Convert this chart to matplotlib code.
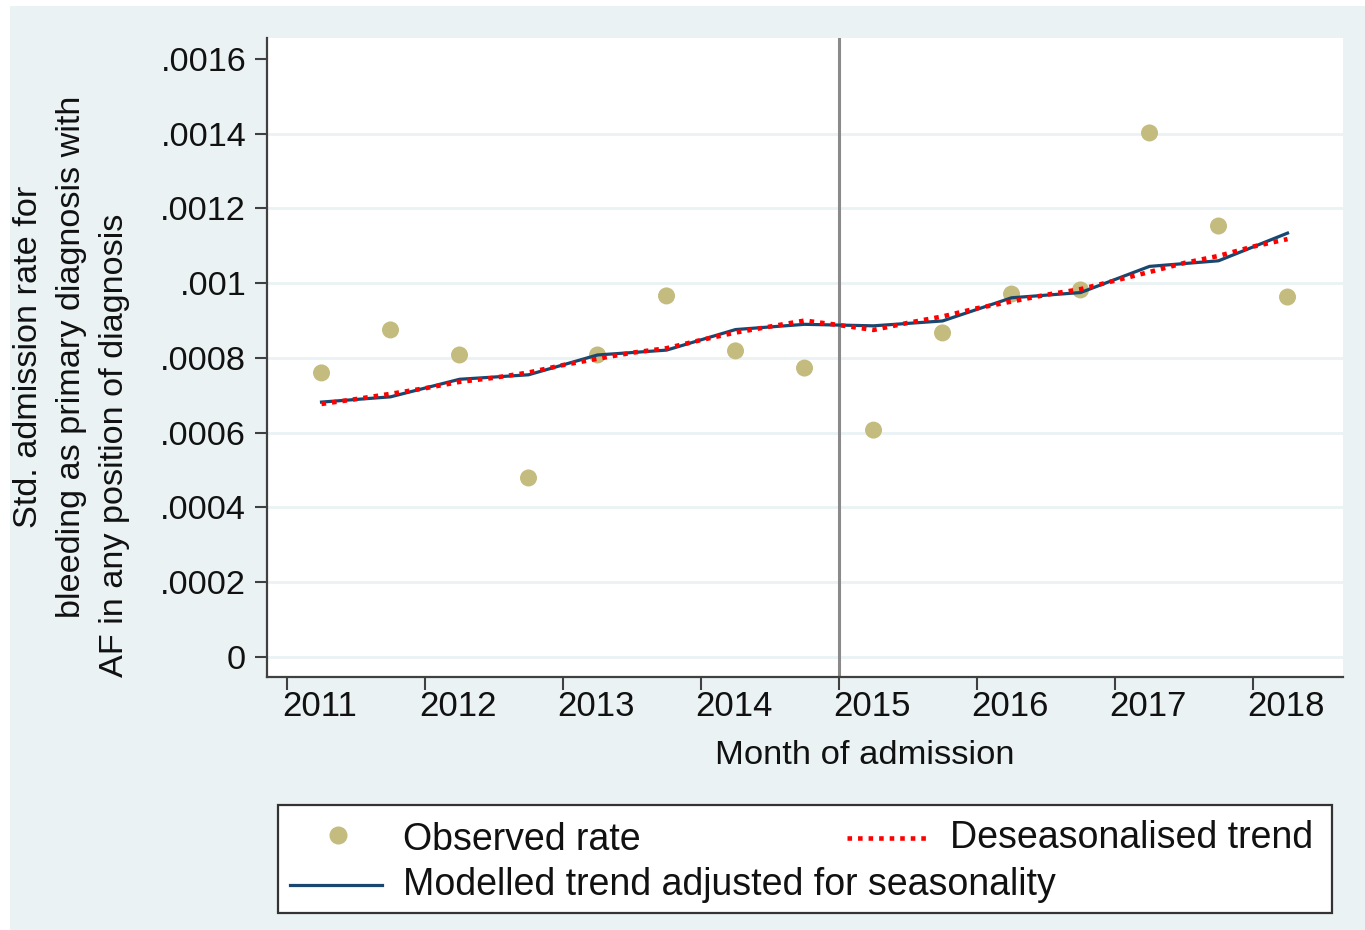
import matplotlib
matplotlib.use('Agg')
import matplotlib.pyplot as plt
from matplotlib.lines import Line2D
from matplotlib.patches import Rectangle
import matplotlib.transforms as mtransforms

plt.rcParams['font.family'] = ['Liberation Sans', 'DejaVu Sans']

# ---------------- data ----------------
obs_x = [2011.25, 2011.75, 2012.25, 2012.75, 2013.25, 2013.75, 2014.25, 2014.75,
         2015.25, 2015.75, 2016.25, 2016.75, 2017.25, 2017.75, 2018.25]
obs_rate = [0.000760, 0.000875, 0.000808, 0.000479, 0.000808, 0.000966, 0.000819, 0.000773,
            0.000607, 0.000867, 0.000971, 0.000982, 0.001402, 0.001153, 0.000963]

model_x = obs_x
model_trend = [0.000682, 0.000696, 0.000743, 0.000755, 0.000808, 0.000821, 0.000876, 0.000890,
               0.000886, 0.000899, 0.000961, 0.000975, 0.001045, 0.001060, 0.001134]

deseason_x = [2011.25, 2011.5, 2011.75, 2012.0, 2012.25, 2012.5, 2012.75, 2013.0,
              2013.25, 2013.5, 2013.75, 2014.0, 2014.25, 2014.5, 2014.75, 2015.0,
              2015.25, 2015.5, 2015.75, 2016.0, 2016.25, 2016.5, 2016.75, 2017.0,
              2017.25, 2017.5, 2017.75, 2018.0, 2018.25]
deseason_trend = [0.000677, 0.000690, 0.000704, 0.000719, 0.000736, 0.000747, 0.000761, 0.000781,
                  0.000798, 0.000814, 0.000826, 0.000848, 0.000868, 0.000884, 0.000900, 0.000888,
                  0.000875, 0.000894, 0.000911, 0.000933, 0.000951, 0.000969, 0.000984, 0.001007,
                  0.001030, 0.001054, 0.001073, 0.001098, 0.001118]

year_ticks = [2011, 2012, 2013, 2014, 2015, 2016, 2017, 2018]
year_labels = ['2011', '2012', '2013', '2014', '2015', '2016', '2017', '2018']
ytick_vals = [0, 0.0002, 0.0004, 0.0006, 0.0008, 0.001, 0.0012, 0.0014, 0.0016]
ytick_labels = ['0', '.0002', '.0004', '.0006', '.0008', '.001', '.0012', '.0014', '.0016']
intervention_year = 2015

ylabel_lines = ['Std. admission rate for',
                'bleeding as primary diagnosis with',
                'AF in any position of diagnosis']
xlabel = 'Month of admission'
legend_labels = ['Observed rate', 'Deseasonalised trend', 'Modelled trend adjusted for seasonality']

# ---------------- style ----------------
BG = '#eaf2f3'
DOT = '#c4bc7e'
NAVY = '#1a476f'
RED = '#ff0000'
AXC = '#404040'
TXT = '#111111'

W, H = 1365, 930
fig = plt.figure(figsize=(W / 100, H / 100), dpi=100, facecolor='white')
fig.patches.append(Rectangle((10 / W, 0), 1 - 10 / W, 1 - 6 / H, transform=fig.transFigure,
                             facecolor=BG, edgecolor='none', zorder=-5))

def fx(px):
    return px / W

def fy(py):
    return 1 - py / H

ax = fig.add_axes([fx(267), fy(677), (1343 - 267) / W, (677 - 38) / H])
ax.set_zorder(1)
ax.set_facecolor('white')
ax.set_xlim(2010.855, 2018.652)
ax.set_ylim(-0.0000535, 0.001656)

for s in ['top', 'right']:
    ax.spines[s].set_visible(False)
for s in ['left', 'bottom']:
    ax.spines[s].set_color(AXC)
    ax.spines[s].set_linewidth(1.6)

ax.set_yticks(ytick_vals)
ax.set_yticklabels(ytick_labels)
ax.set_xticks(year_ticks)
ax.set_xticklabels(year_labels)
ax.tick_params(axis='both', length=9, width=1.5, color=AXC, labelcolor=TXT)
ax.tick_params(axis='y', pad=6, labelsize=24.7)
ax.tick_params(axis='x', pad=0, labelsize=25)

offset = mtransforms.ScaledTranslation(33 / 100, 0, fig.dpi_scale_trans)
for lab in ax.get_xticklabels():
    lab.set_transform(lab.get_transform() + offset)

ax.yaxis.grid(True, color=BG, linewidth=2.0)
ax.set_axisbelow(True)
ax.yaxis.get_gridlines()[-1].set_visible(False)

ax.axvline(intervention_year, color='#8a8a8a', linewidth=2.2, zorder=1)

ax.scatter(obs_x, obs_rate, s=150, color=DOT, edgecolors='none', zorder=2)
ax.plot(model_x, model_trend, color=NAVY, linewidth=2.3, zorder=3)
ax.plot(deseason_x, deseason_trend, color=RED, linewidth=3.3, linestyle=(0, (1, 1.3)), zorder=4)

# axis titles
fig.text(fx(865), fy(756), xlabel, ha='center', va='center', fontsize=24.8, color=TXT)
for (bx, cy), line in zip([(37, 357), (80, 357), (123, 445)], ylabel_lines):
    fig.text(fx(bx), fy(cy), line, rotation=90, rotation_mode='anchor',
             ha='center', va='baseline', fontsize=24.7, color=TXT)

# legend (manual, Stata-like layout)
fig.patches.append(Rectangle((fx(278), fy(913)), (1332 - 278) / W, (913 - 805) / H,
                             transform=fig.transFigure, facecolor='white',
                             edgecolor='#333333', linewidth=1.6, zorder=5))
fig.add_artist(Line2D([fx(338)], [fy(835)], marker='o', markersize=13, color=DOT,
                      markeredgecolor='none', linestyle='none', transform=fig.transFigure, zorder=6))
fig.text(fx(403), fy(840), legend_labels[0], ha='left', va='center', fontsize=27, color=TXT, zorder=6)
fig.add_artist(Line2D([fx(847), fx(930)], [fy(838), fy(838)], color=RED, linewidth=3.3,
                      linestyle=(0, (1, 1.3)), transform=fig.transFigure, zorder=6))
fig.text(fx(950), fy(838), legend_labels[1], ha='left', va='center', fontsize=27, color=TXT, zorder=6)
fig.add_artist(Line2D([fx(290), fx(382)], [fy(885), fy(885)], color=NAVY, linewidth=2.3,
                      transform=fig.transFigure, zorder=6))
fig.text(fx(403), fy(885), legend_labels[2], ha='left', va='center', fontsize=27, color=TXT, zorder=6)

fig.savefig('out.png', dpi=100, facecolor=fig.get_facecolor())
